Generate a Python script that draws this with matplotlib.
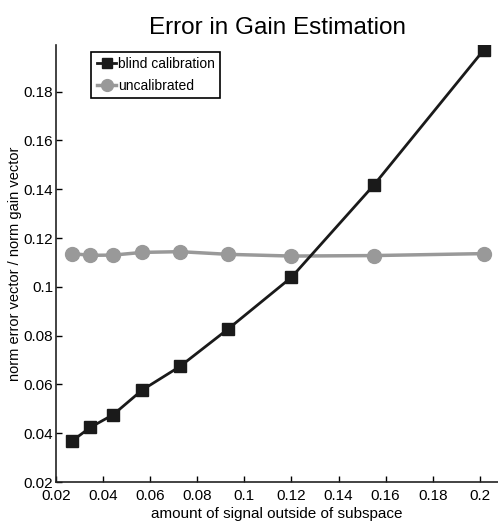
# -*- coding: utf-8 -*-
"""
    Gain estimation error vs. amount of signal outside the subspace,
    blind calibration against the uncalibrated case.
"""

import matplotlib
matplotlib.use("Agg")
import matplotlib.pyplot as plt

plt.rcParams['font.family'] = ['Liberation Sans Narrow', 'Liberation Sans', 'DejaVu Sans']

# amount of signal outside of subspace
outside = [0.0268, 0.0346, 0.0443, 0.0566, 0.0727, 0.0932, 0.1200, 0.1549, 0.2016]
# norm error vector / norm gain vector
blind = [0.0368, 0.0424, 0.0476, 0.0577, 0.0674, 0.0828, 0.1039, 0.1416, 0.1970]
uncal = [0.1136, 0.1129, 0.1130, 0.1141, 0.1144, 0.1133, 0.1126, 0.1128, 0.1136]

xticks = [0.02, 0.04, 0.06, 0.08, 0.1, 0.12, 0.14, 0.16, 0.18, 0.2]
yticks = [0.02, 0.04, 0.06, 0.08, 0.1, 0.12, 0.14, 0.16, 0.18]


def fmt(v):
    return ('%g' % v)


fig = plt.figure(figsize=(4.98, 5.24), dpi=100)
ax = fig.add_axes([56 / 498., 1 - 482 / 524., 442 / 498., 437 / 524.])

ax.plot(outside, blind, color='#1a1a1a', lw=2.0, marker='s', ms=9,
        label='blind calibration', zorder=3)
ax.plot(outside, uncal, color='#999999', lw=2.5, marker='o', ms=10,
        label='uncalibrated', zorder=2)

ax.set_xlim(0.02, 0.2077)
ax.set_ylim(0.02, 0.1991)
ax.set_xticks(xticks)
ax.set_xticklabels([fmt(v) for v in xticks])
ax.set_yticks(yticks)
ax.set_yticklabels([fmt(v) for v in yticks])
ax.tick_params(direction='in', length=4, width=1, labelsize=11)
ax.tick_params(axis='x', pad=5)
ax.tick_params(axis='y', pad=2)

for side in ('top', 'right'):
    ax.spines[side].set_visible(False)
for side in ('left', 'bottom'):
    ax.spines[side].set_linewidth(1.2)
    ax.spines[side].set_color('#222222')

ax.set_title('Error in Gain Estimation', fontsize=17.5, pad=8)
ax.set_xlabel('amount of signal outside of subspace', fontsize=11, labelpad=3)
ax.set_ylabel('norm error vector / norm gain vector', fontsize=10.5, labelpad=1)

leg = ax.legend(loc='upper left', bbox_to_anchor=(0.08, 0.985), fontsize=10,
                handlelength=1.4, handletextpad=0.1, borderpad=0.4,
                labelspacing=0.55, fancybox=False, framealpha=1,
                edgecolor='black', markerscale=0.85, borderaxespad=0)
leg.get_frame().set_linewidth(1.2)

fig.savefig('out.png', dpi=100)
